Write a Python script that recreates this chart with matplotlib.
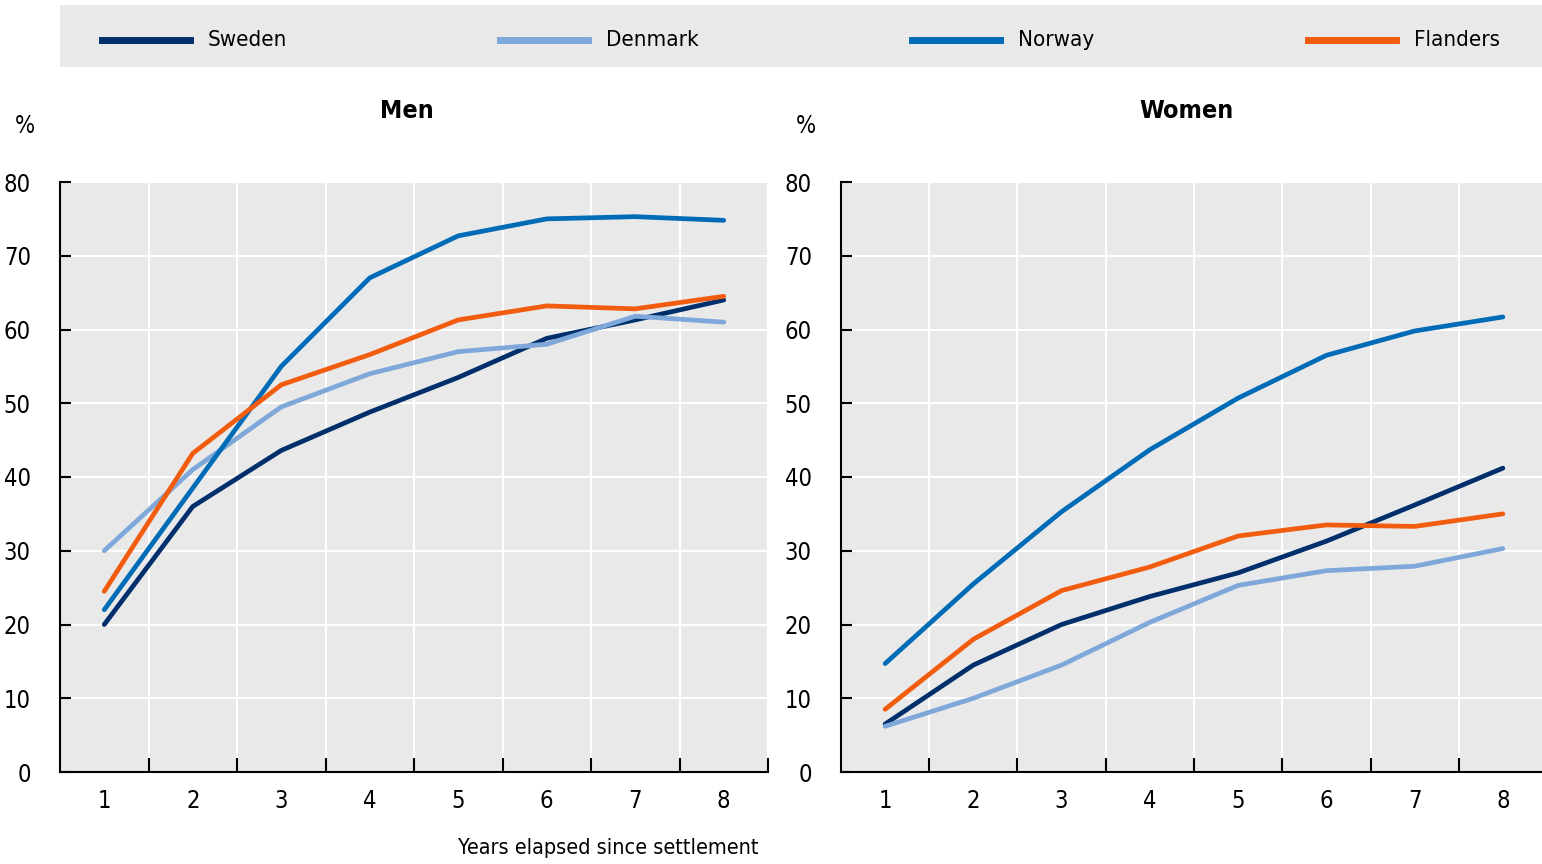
import numpy as np
import matplotlib
matplotlib.use('Agg')
import matplotlib.pyplot as plt
from matplotlib.lines import Line2D

plt.rcParams['font.family'] = ['DejaVu Sans']
plt.rcParams['font.stretch'] = 'condensed'

years = [1, 2, 3, 4, 5, 6, 7, 8]
countries = ['Sweden', 'Denmark', 'Norway', 'Flanders']
colors = ['#002F6C', '#7FA8DA', '#006BB6', '#F25C0F']

# men
men_sweden = [20, 36, 43.6, 48.8, 53.5, 58.8, 61.3, 64]
men_denmark = [30, 41, 49.5, 54, 57, 58, 61.8, 61]
men_norway = [22, 38.5, 55, 67, 72.7, 75, 75.3, 74.8]
men_flanders = [24.5, 43.2, 52.5, 56.6, 61.3, 63.2, 62.8, 64.5]

# women
women_sweden = [6.5, 14.5, 20, 23.8, 27, 31.3, 36.2, 41.2]
women_denmark = [6.2, 10, 14.5, 20.3, 25.3, 27.3, 27.9, 30.3]
women_norway = [14.7, 25.5, 35.3, 43.7, 50.7, 56.5, 59.8, 61.7]
women_flanders = [8.5, 18, 24.6, 27.8, 32, 33.5, 33.3, 35]

men = [men_sweden, men_denmark, men_norway, men_flanders]
women = [women_sweden, women_denmark, women_norway, women_flanders]

W, H = 1542, 864
fig = plt.figure(figsize=(W / 100, H / 100), dpi=100)

# legend strip
lax = fig.add_axes([60 / W, 1 - 67 / H, (W - 60) / W, 62 / H])
lax.set_xlim(0, W - 60)
lax.set_ylim(0, 1)
lax.axis('off')
lax.add_patch(plt.Rectangle((0, 0), W - 60, 1, color='#E9E9E9', zorder=0))
leg_x = [42, 440, 852, 1248]
for name, c, x0 in zip(countries, colors, leg_x):
    lax.add_line(Line2D([x0, x0 + 88], [0.44, 0.44], color=c, lw=5))
    lax.text(x0 + 106, 0.44, name, fontsize=16, va='center', ha='left')

def panel(left, width, data, title):
    ax = fig.add_axes([left / W, (H - 772) / H, width / W, 590 / H])
    ax.set_facecolor('#E9E9E9')
    for vals, c in zip(data, colors):
        ax.plot(years, vals, color=c, lw=3.4, solid_capstyle='round', zorder=3)
    ax.set_xlim(0.5, 8.5)
    ax.set_ylim(0, 80)
    ax.set_yticks(range(0, 81, 10))
    ax.set_xticks(years)
    ax.set_xticks(np.arange(1.5, 8.6, 1), minor=True)
    ax.tick_params(axis='x', which='major', length=0, pad=12, labelsize=17)
    ax.tick_params(axis='x', which='minor', length=10, direction='in', width=1.5)
    ax.tick_params(axis='y', length=8, direction='in', width=1.5, pad=21, labelsize=17)
    ax.grid(True, axis='y', color='white', lw=1.5)
    ax.grid(True, axis='x', which='minor', color='white', lw=1.5)
    ax.set_axisbelow(True)
    for s in ['top', 'right']:
        ax.spines[s].set_visible(False)
    for s in ['left', 'bottom']:
        ax.spines[s].set_linewidth(1.5)
    ax.text(0.49, 1.121, title, transform=ax.transAxes, fontsize=18, fontweight='bold',
            ha='center', va='center')
    ax.text(-0.05, 1.095, '%', transform=ax.transAxes, fontsize=17, ha='center', va='center')
    return ax

ax1 = panel(60, 708, men, 'Men')
ax2 = panel(841, 706, women, 'Women')
ax1.text(1.0 - 10 / 708, -0.128, 'Years elapsed since settlement', transform=ax1.transAxes,
         fontsize=15.5, ha='right', va='center')

fig.savefig('out.png', dpi=100)
